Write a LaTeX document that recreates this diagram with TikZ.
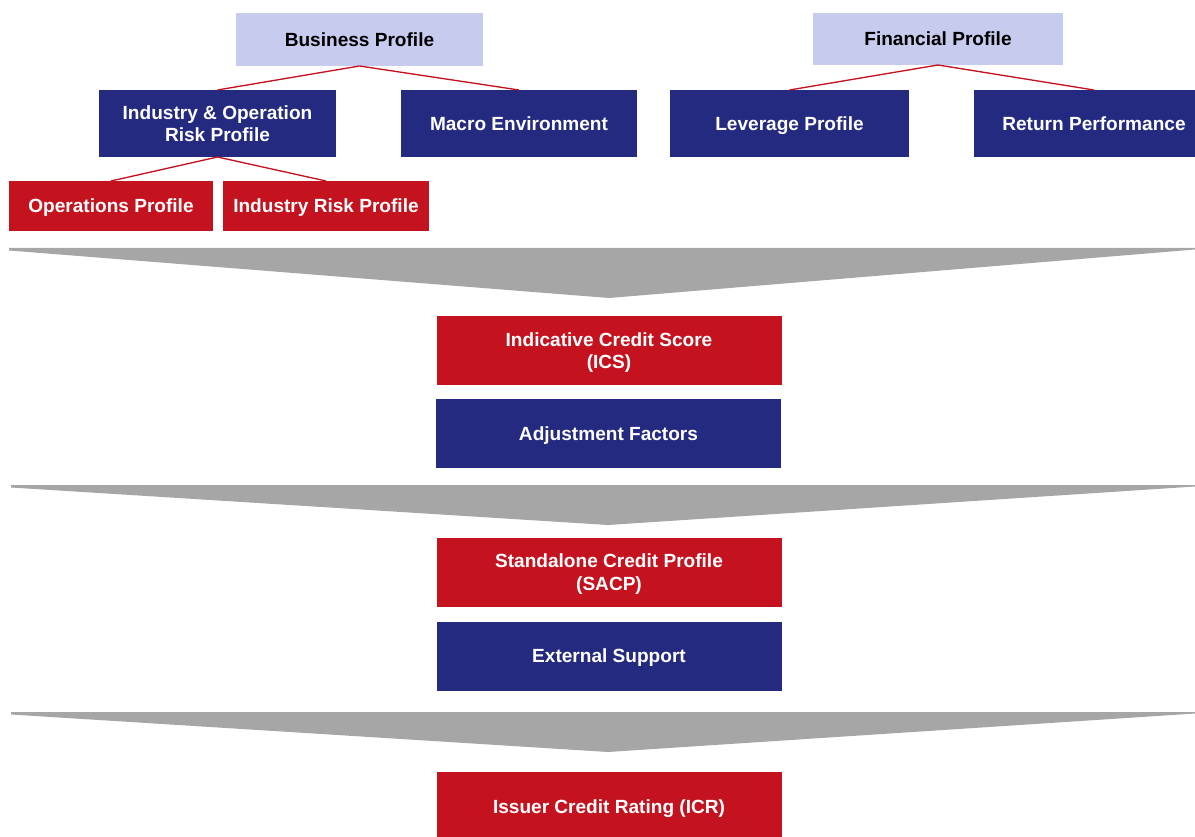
\documentclass[tikz,border=0pt]{standalone}
\usepackage{fontspec}
\setmainfont{Liberation Sans}
\usepackage{tikz}

\definecolor{ratingred}{HTML}{C4121F}
\definecolor{ratingnavy}{HTML}{242A80}
\definecolor{ratinglilac}{HTML}{C7CBEE}
\definecolor{chevgray}{HTML}{A6A6A6}

\tikzset{
  box/.style={inner sep=0pt,outer sep=0pt,align=center,text depth=0pt,
              font=\fontsize{14.3}{17}\selectfont\bfseries},
  headbox/.style={box,fill=ratinglilac,text=black},
  navybox/.style={box,fill=ratingnavy,text=white},
  redbox/.style={box,fill=ratingred,text=white},
  link/.style={draw=ratingred,line width=1pt}
}

\begin{document}
\begin{tikzpicture}[x=0.75pt,y=-0.75pt]
    \useasboundingbox (0,0) rectangle (1195,837);

    % profile headers
    \node[headbox,minimum width=185.25pt,minimum height=39.75pt] (bizprof) at (359.5,39.5) {Business Profile};
    \node[headbox,minimum width=187.5pt,minimum height=39pt] (finprof) at (938,39) {Financial Profile};

    % second level
    \node[navybox,minimum width=177.75pt,minimum height=50.25pt] (indop) at (217.5,123.5) {Industry \& Operation\\Risk Profile};
    \node[navybox,minimum width=177pt,minimum height=50.25pt] (macro) at (519,123.5) {Macro Environment};
    \node[navybox,minimum width=179.25pt,minimum height=50.25pt] (leverage) at (789.5,123.5) {Leverage Profile};
    \node[navybox,minimum width=180pt,minimum height=50.25pt] (retperf) at (1094,123.5) {Return Performance};

    % third level
    \node[redbox,minimum width=153pt,minimum height=37.5pt] (opsprof) at (111,206) {Operations Profile};
    \node[redbox,minimum width=154.5pt,minimum height=37.5pt] (indrisk) at (326,206) {Industry Risk Profile};

    \draw[link] (bizprof.south) -- (indop.north);
    \draw[link] (bizprof.south) -- (macro.north);
    \draw[link] (finprof.south) -- (leverage.north);
    \draw[link] (finprof.south) -- (retperf.north);
    \draw[link] (indop.south) -- (opsprof.north);
    \draw[link] (indop.south) -- (indrisk.north);

    % funnels
    \fill[chevgray] (9,248) -- (1195,248) -- (1195,249.5) -- (609,298) -- (9,250.5) -- cycle;
    \fill[chevgray] (11,485) -- (1195,485) -- (1195,486.5) -- (608,525) -- (11,487.5) -- cycle;
    \fill[chevgray] (11,712) -- (1195,712) -- (1195,713.5) -- (608,752) -- (11,714.5) -- cycle;

    % rating steps
    \node[redbox,minimum width=258.75pt,minimum height=51.75pt] (ics) at (609,350.5) {Indicative Credit Score\\(ICS)};
    \node[navybox,minimum width=258.75pt,minimum height=51.75pt] (adjfac) at (608.5,433.5) {Adjustment Factors};
    \node[redbox,minimum width=258.75pt,minimum height=51.75pt] (sacp) at (609,572) {Standalone Credit Profile\\(SACP)};
    \node[navybox,minimum width=258.75pt,minimum height=51.75pt] (extsup) at (609,656) {External Support};
    \node[redbox,minimum width=258.75pt,minimum height=51.75pt] (icr) at (609,806.5) {Issuer Credit Rating (ICR)};
\end{tikzpicture}
\end{document}
